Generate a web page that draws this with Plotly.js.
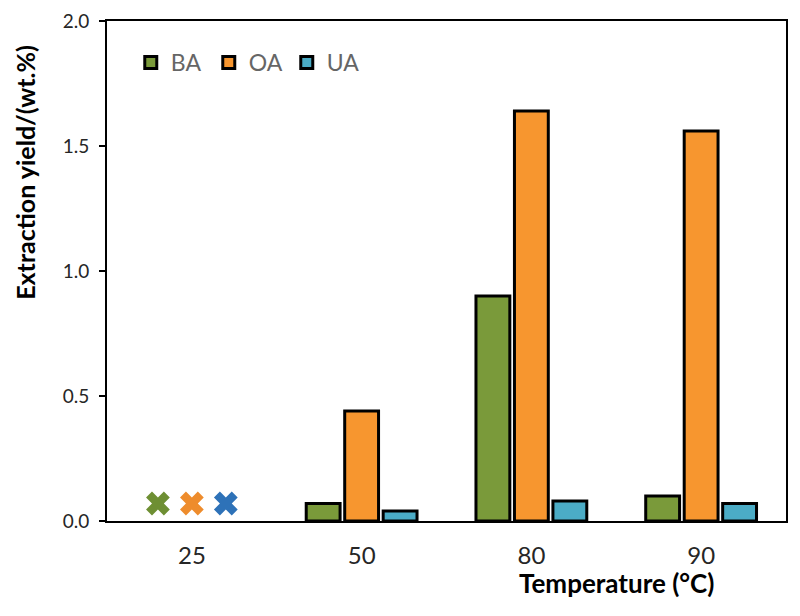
<!DOCTYPE html>
<html>
<head>
<meta charset="utf-8">
<script src="https://cdn.plot.ly/plotly-3.0.1.min.js"></script>
<style>html,body{margin:0;padding:0;background:#fff;}#chart{width:800px;height:616px;}</style>
</head>
<body>
<div id="chart"></div>
<script>
const categories = ['25', '50', '80', '90'];
const seriesNames = ['BA', 'OA', 'UA'];
const BA = [null, 0.07, 0.90, 0.10];
const OA = [null, 0.44, 1.64, 1.56];
const UA = [null, 0.04, 0.08, 0.07];
const notDetectedCat = ['25'];
const notDetectedY = [0.07];
const yTicks = [0, 0.5, 1.0, 1.5, 2.0];

const barColors = ['#7A9A3A', '#F7962F', '#4BACC6'];
const xColors = ['#6E8F33', '#EE8C2C', '#2E72B8'];
const values = [BA, OA, UA];

const traces = [];
seriesNames.forEach((name, i) => {
  traces.push({
    type: 'bar', name: name, x: categories, y: values[i],
    offsetgroup: name,
    marker: {color: barColors[i], line: {color: '#000', width: 3}},
    showlegend: true
  });
});
seriesNames.forEach((name, i) => {
  traces.push({
    type: 'scatter', mode: 'markers', x: notDetectedCat, y: notDetectedY,
    offsetgroup: name,
    marker: {symbol: 'x', size: 21, color: xColors[i], line: {color: xColors[i], width: 0}},
    showlegend: false, hoverinfo: 'skip'
  });
});

const layout = {
  width: 800, height: 616,
  margin: {l: 107, r: 14, t: 21, b: 95},
  paper_bgcolor: '#fff', plot_bgcolor: '#fff',
  barmode: 'group', bargap: 0.32, bargroupgap: 0.12,
  scattermode: 'group', scattergap: 0.4,
  font: {family: 'Lato, "Open Sans", sans-serif', color: '#262626'},
  xaxis: {
    type: 'category', showline: true, mirror: true, linecolor: '#000', linewidth: 2,
    ticks: '', showgrid: false, zeroline: false,
    tickfont: {size: 24, color: '#262626'}, ticklabelstandoff: 12
  },
  yaxis: {
    range: [0, 2.0], tickvals: yTicks, tickformat: '.1f',
    showline: true, mirror: true, linecolor: '#000', linewidth: 2,
    ticks: 'outside', ticklen: 6, tickwidth: 2, tickcolor: '#000',
    showgrid: false, zeroline: false, ticklabelstandoff: 6,
    tickfont: {size: 19, color: '#262626'}
  },
  legend: {
    orientation: 'h', x: 0.035, y: 0.96, xanchor: 'left', yanchor: 'top',
    font: {size: 23, color: '#666'}, bgcolor: 'rgba(0,0,0,0)',
    entrywidth: 33, entrywidthmode: 'pixels', traceorder: 'normal'
  },
  annotations: [
    {
      text: '<b>Temperature (°C)</b>', xref: 'paper', yref: 'paper',
      x: 0.751, y: -0.124, xanchor: 'center', yanchor: 'middle', showarrow: false,
      font: {size: 26, color: '#000', family: 'Lato, sans-serif'}
    },
    {
      text: '<b>Extraction yield/(wt.%)</b>', xref: 'paper', yref: 'paper',
      x: -0.121, y: 0.698, xanchor: 'center', yanchor: 'middle', showarrow: false,
      textangle: -90,
      font: {size: 25, color: '#000', family: 'Lato, sans-serif'}
    }
  ]
};

Plotly.newPlot('chart', traces, layout, {displayModeBar: false, staticPlot: true});
</script>
</body>
</html>
